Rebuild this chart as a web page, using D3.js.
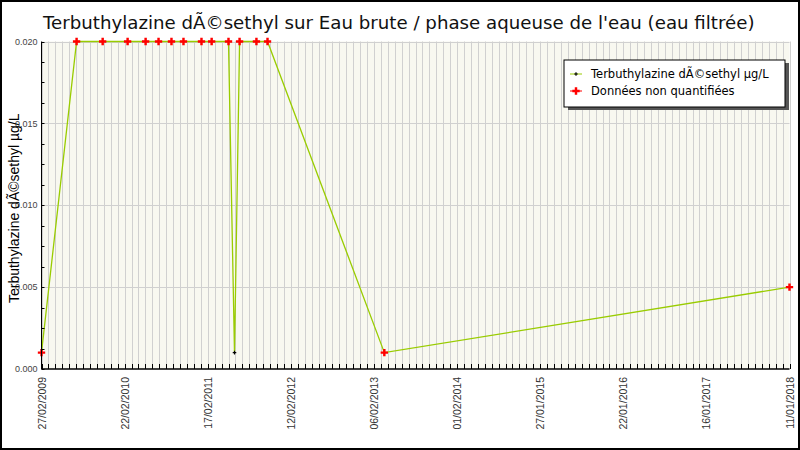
<!DOCTYPE html>
<html>
<head>
<meta charset="utf-8">
<script src="https://cdn.jsdelivr.net/npm/d3@7"></script>
<style>
  body { margin: 0; background: #fff; }
  svg { display: block; }
</style>
</head>
<body>
<script>
// sample dates, values and whether the lab could quantify them
const dates = ["2009-02-27", "2009-07-29", "2009-11-19", "2010-03-07", "2010-05-24", "2010-07-19",
  "2010-09-13", "2010-11-04", "2011-01-21", "2011-03-06", "2011-05-18", "2011-06-13",
  "2011-07-05", "2011-09-16", "2011-11-03", "2013-03-23", "2018-01-11"];
const values = [0.001, 0.02, 0.02, 0.02, 0.02, 0.02, 0.02, 0.02, 0.02, 0.02, 0.02, 0.001,
  0.02, 0.02, 0.02, 0.001, 0.005];
const quantified = [false, false, false, false, false, false, false, false, false, false, false, true,
  false, false, false, false, false];
const yTicks = [0, 0.005, 0.01, 0.015, 0.02];
const title = "Terbuthylazine dÃ©sethyl sur Eau brute / phase aqueuse de l'eau (eau filtrée)";
const yLabel = "Terbuthylazine dÃ©sethyl µg/L";
const legendLabels = ["Terbuthylazine dÃ©sethyl µg/L", "Données non quantifiées"];

const width = 800, height = 450;
const marginLeft = 41.5, marginRight = 10.5, marginTop = 41.5, marginBottom = 81;
const lineColor = "#99cc00";

const parse = d3.utcParse("%Y-%m-%d");
const data = dates.map((d, i) => ({date: parse(d), value: values[i], q: quantified[i]}));

const x = d3.scaleUtc(d3.extent(data, d => d.date), [marginLeft, width - marginRight]);
const y = d3.scaleLinear([0, 0.02], [height - marginBottom, marginTop]);

// ticks every 30 days from the first sample, a label every 12th
const xTicks = d3.range(0, 109).map(k => d3.utcDay.offset(x.domain()[0], k * 30));
const xLabelTicks = xTicks.filter((d, i) => i % 12 === 0);
const yMinor = d3.range(0, 17).map(k => k * 0.00125);

const svg = d3.select("body").append("svg")
    .attr("width", width)
    .attr("height", height)
    .attr("viewBox", [0, 0, width, height]);

svg.append("rect")
    .attr("x", x.range()[0]).attr("y", marginTop)
    .attr("width", x.range()[1] - x.range()[0])
    .attr("height", height - marginBottom - marginTop)
    .attr("fill", "#f8f8f0");

// vertical grid
svg.append("g")
    .attr("stroke", "#d0d0d0")
    .selectAll("line")
    .data(xTicks)
    .join("line")
    .attr("x1", d => Math.round(x(d)) + 0.5).attr("x2", d => Math.round(x(d)) + 0.5)
    .attr("y1", marginTop).attr("y2", height - marginBottom);

// horizontal grid
svg.append("g")
    .attr("stroke", "#d0d0d0")
    .selectAll("line")
    .data(yTicks.slice(1))
    .join("line")
    .attr("x1", marginLeft).attr("x2", width - marginRight)
    .attr("y1", d => Math.round(y(d)) + 0.5).attr("y2", d => Math.round(y(d)) + 0.5);

const line = d3.line()
    .x(d => x(d.date))
    .y(d => y(d.value));

svg.append("path")
    .datum(data)
    .attr("fill", "none")
    .attr("stroke", lineColor)
    .attr("stroke-width", 1.3)
    .attr("d", line);

const redMark = d3.symbol(d3.symbolCross, 30);
const blackMark = d3.symbol(d3.symbolCross, 7);

svg.append("g")
    .selectAll("path")
    .data(data)
    .join("path")
    .attr("transform", d => `translate(${x(d.date)},${y(d.value)})`)
    .attr("d", d => d.q ? blackMark() : redMark())
    .attr("fill", d => d.q ? "#000" : "#ff0000");

// y axis
const yAxis = svg.append("g").attr("transform", `translate(${marginLeft},0)`);
yAxis.append("line")
    .attr("x1", 0).attr("x2", 0)
    .attr("y1", marginTop).attr("y2", height - marginBottom)
    .attr("stroke", "#000");
yAxis.selectAll(".minor")
    .data(yMinor)
    .join("line")
    .attr("x1", 0).attr("x2", 3)
    .attr("y1", d => Math.round(y(d)) + 0.5).attr("y2", d => Math.round(y(d)) + 0.5)
    .attr("stroke", "#000");
yAxis.selectAll("text")
    .data(yTicks)
    .join("text")
    .attr("x", -4)
    .attr("y", d => y(d))
    .attr("dy", "0.35em")
    .attr("text-anchor", "end")
    .attr("font-family", "Liberation Sans, Arial, sans-serif")
    .attr("font-size", 9)
    .attr("fill", "#444")
    .text(d3.format(".3f"));

// x axis
const xAxis = svg.append("g").attr("transform", `translate(0,${height - marginBottom})`);
xAxis.append("line")
    .attr("x1", marginLeft).attr("x2", width - marginRight)
    .attr("stroke", "#000").attr("stroke-width", 1.5);
xAxis.selectAll(".tick")
    .data(xTicks)
    .join("line")
    .attr("x1", d => Math.round(x(d)) + 0.5).attr("x2", d => Math.round(x(d)) + 0.5)
    .attr("y1", 0).attr("y2", -5)
    .attr("stroke", "#000");
xAxis.selectAll("text")
    .data(xLabelTicks)
    .join("text")
    .attr("transform", d => `translate(${x(d) + 4},8) rotate(-90)`)
    .attr("text-anchor", "end")
    .attr("font-family", "Liberation Sans, Arial, sans-serif")
    .attr("font-size", 10.5)
    .attr("fill", "#333")
    .text(d3.utcFormat("%d/%m/%Y"));

// y label
svg.append("text")
    .attr("transform", `translate(19,${(marginTop + height - marginBottom) / 2 + 3}) rotate(-90)`)
    .attr("text-anchor", "middle")
    .attr("font-family", "Liberation Sans, Arial, sans-serif")
    .attr("font-size", 14)
    .attr("fill", "#000")
    .text(yLabel);

// title
svg.append("text")
    .attr("x", 43).attr("y", 29)
    .attr("font-family", "DejaVu Sans, sans-serif")
    .attr("font-size", 18.2)
    .attr("fill", "#111")
    .text(title);

// legend
const legend = svg.append("g").attr("transform", "translate(564,60)");
legend.append("rect")
    .attr("x", 4).attr("y", 3).attr("width", 221).attr("height", 47)
    .attr("fill", "#555");
legend.append("rect")
    .attr("x", 0).attr("y", 0).attr("width", 221).attr("height", 47)
    .attr("fill", "#fff").attr("stroke", "#000");
const items = legend.selectAll(".item")
    .data(legendLabels)
    .join("g")
    .attr("transform", (d, i) => `translate(0,${14 + i * 17})`);
items.append("line")
    .attr("x1", 6).attr("x2", 18)
    .attr("stroke", (d, i) => i ? "#ff0000" : lineColor);
items.append("path")
    .attr("transform", "translate(12,0)")
    .attr("d", (d, i) => i ? redMark() : blackMark())
    .attr("fill", (d, i) => i ? "#ff0000" : "#000");
items.append("text")
    .attr("x", 27)
    .attr("dy", "0.35em")
    .attr("font-family", "DejaVu Sans, sans-serif")
    .attr("font-size", 11.5)
    .attr("fill", "#000")
    .text(d => d);

// outer frame
svg.append("rect")
    .attr("x", 1).attr("y", 1).attr("width", width - 2).attr("height", height - 2)
    .attr("fill", "none").attr("stroke", "#000").attr("stroke-width", 2);
</script>
</body>
</html>
